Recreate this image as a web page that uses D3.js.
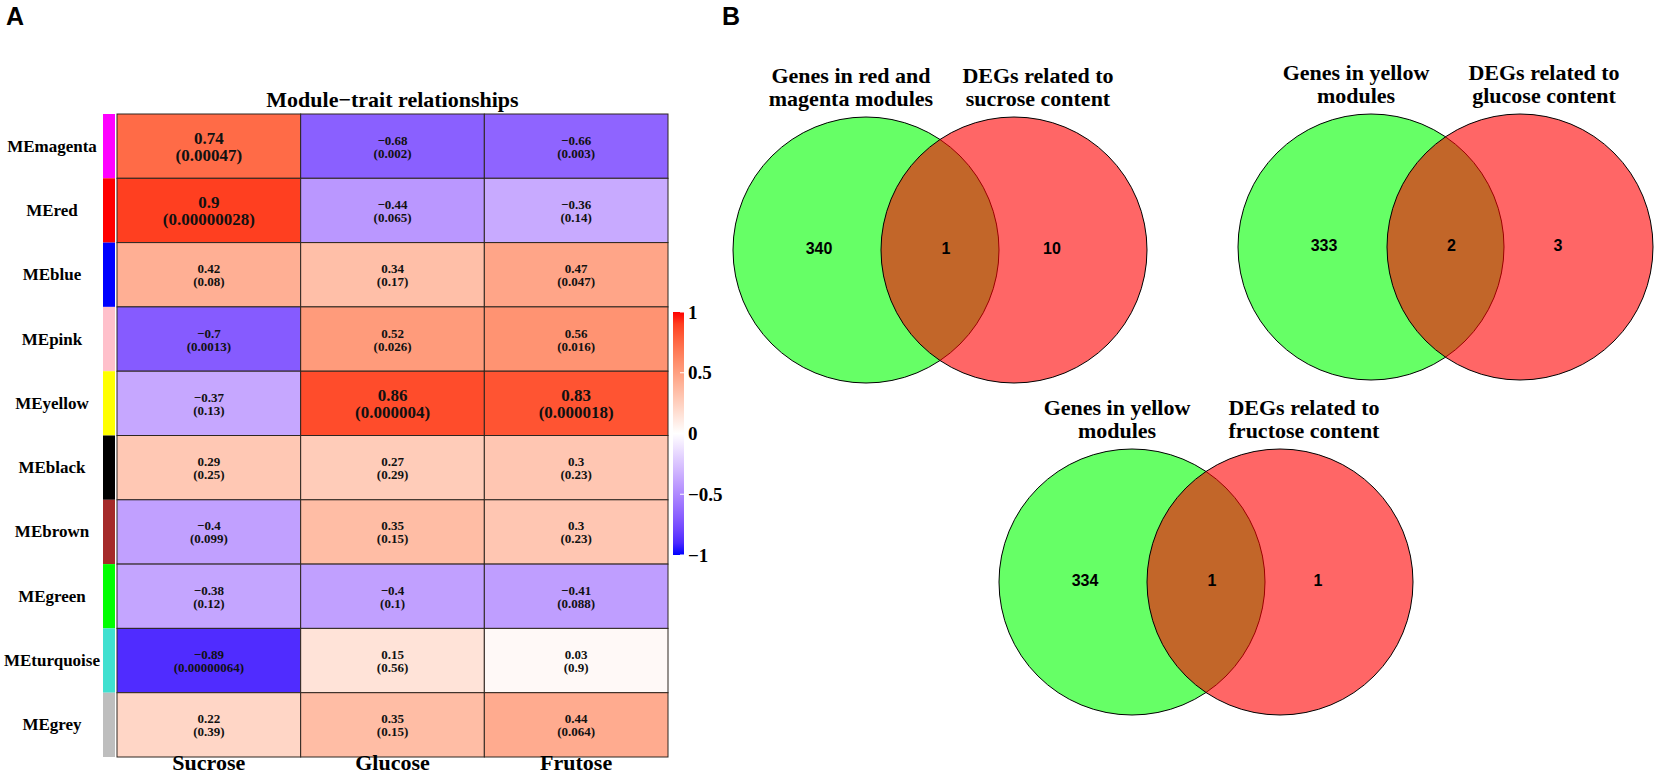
<!DOCTYPE html>
<html>
<head>
<meta charset="utf-8">
<script src="https://cdn.jsdelivr.net/npm/d3@7"></script>
<style>
  html, body { margin: 0; padding: 0; background: #fff; }
  svg { display: block; }
</style>
</head>
<body>
<svg id="chart" width="1654" height="776"></svg>
<script>
// ---------------- DATA ----------------
const modules = ["MEmagenta","MEred","MEblue","MEpink","MEyellow","MEblack","MEbrown","MEgreen","MEturquoise","MEgrey"];
const traits = ["Sucrose","Glucose","Frutose"];
const corSucrose = [0.74, 0.9, 0.42, -0.7, -0.37, 0.29, -0.4, -0.38, -0.89, 0.22];
const corGlucose = [-0.68, -0.44, 0.34, 0.52, 0.86, 0.27, 0.35, -0.4, 0.15, 0.35];
const corFrutose = [-0.66, -0.36, 0.47, 0.56, 0.83, 0.3, 0.3, -0.41, 0.03, 0.44];
const pSucrose = ["0.00047","0.00000028","0.08","0.0013","0.13","0.25","0.099","0.12","0.00000064","0.39"];
const pGlucose = ["0.002","0.065","0.17","0.026","0.000004","0.29","0.15","0.1","0.56","0.15"];
const pFrutose = ["0.003","0.14","0.047","0.016","0.000018","0.23","0.23","0.088","0.9","0.064"];
const legendTicks = [1, 0.5, 0, -0.5, -1];
const legendTickLabels = ["1", "0.5", "0", "\u22120.5", "\u22121"];

const venn1Left = ["Genes in red and", "magenta modules"];
const venn1Right = ["DEGs related to", "sucrose content"];
const venn1Counts = [340, 1, 10];
const venn2Left = ["Genes in yellow", "modules"];
const venn2Right = ["DEGs related to", "glucose content"];
const venn2Counts = [333, 2, 3];
const venn3Left = ["Genes in yellow", "modules"];
const venn3Right = ["DEGs related to", "fructose content"];
const venn3Counts = [334, 1, 1];

// ---------------- STYLE ----------------
const stripColor = {magenta:"#FF00FF", red:"#FF0000", blue:"#0000FF", pink:"#FFC0CB", yellow:"#FFFF00",
  black:"#000000", brown:"#A52A2A", green:"#00FF00", turquoise:"#40E0D0", grey:"#BEBEBE"};
const SERIF = "'Liberation Serif','Times New Roman',serif";
const SANS = "'Liberation Sans',Arial,sans-serif";

const svg = d3.select("#chart");
svg.append("rect").attr("width",1654).attr("height",776).attr("fill","#fff");

// panel letters
svg.append("text").attr("x",6).attr("y",25).text("A")
  .attr("font-family",SANS).attr("font-weight","bold").attr("font-size",25);
svg.append("text").attr("x",722).attr("y",25).text("B")
  .attr("font-family",SANS).attr("font-weight","bold").attr("font-size",25);

// ---------------- HEATMAP ----------------
const cors = [corSucrose, corGlucose, corFrutose];
const pvals = [pSucrose, pGlucose, pFrutose];
const cells = [];
traits.forEach((t, j) => modules.forEach((m, i) => cells.push({trait:t, module:m, r:cors[j][i], p:pvals[j][i]})));

const x = d3.scaleBand().domain(traits).range([117, 668]);
const y = d3.scaleBand().domain(modules).range([114, 757]);
const color = d3.scaleLinear().domain([-1, 0, 1]).range(["#0000FF", "#FFFFFF", "#FF0000"]).interpolate(d3.interpolateLab);

const fmt = v => (v < 0 ? "\u2212" : "") + String(Math.abs(v));

const hm = svg.append("g");
hm.selectAll("rect.cell").data(cells).join("rect").attr("class","cell")
  .attr("x", d => x(d.trait)).attr("y", d => y(d.module))
  .attr("width", x.bandwidth()).attr("height", y.bandwidth())
  .attr("fill", d => color(d.r)).attr("stroke", "#2e2620").attr("stroke-width", 1);

const txt = hm.selectAll("g.ct").data(cells).join("g").attr("class","ct")
  .attr("transform", d => `translate(${x(d.trait) + x.bandwidth()/2},${y(d.module) + y.bandwidth()/2})`)
  .attr("font-family", SERIF).attr("font-weight","bold").attr("text-anchor","middle").attr("fill","#111");
txt.append("text").attr("dy", d => d.r >= 0.7 ? -8 : -6).attr("dominant-baseline","central")
  .attr("font-size", d => d.r >= 0.7 ? 17 : 13).text(d => fmt(d.r));
txt.append("text").attr("dy", d => d.r >= 0.7 ? 9 : 7).attr("dominant-baseline","central")
  .attr("font-size", d => d.r >= 0.7 ? 17 : 13).text(d => "(" + d.p + ")");

// module colour strip
hm.selectAll("rect.strip").data(modules).join("rect").attr("class","strip")
  .attr("x", 103).attr("y", d => y(d)).attr("width", 12).attr("height", y.bandwidth())
  .attr("fill", d => stripColor[d.slice(2)]);

// row labels
hm.selectAll("text.rl").data(modules).join("text").attr("class","rl")
  .attr("x", 52).attr("y", d => y(d) + y.bandwidth()/2).attr("dominant-baseline","central")
  .attr("text-anchor","middle").attr("font-family",SERIF).attr("font-weight","bold").attr("font-size",17)
  .text(d => d);

// column labels
hm.selectAll("text.cl").data(traits).join("text").attr("class","cl")
  .attr("x", d => x(d) + x.bandwidth()/2).attr("y", 770)
  .attr("text-anchor","middle").attr("font-family",SERIF).attr("font-weight","bold").attr("font-size",22)
  .text(d => d);

// title
svg.append("text").attr("x", (117+668)/2).attr("y", 99).attr("dominant-baseline","central")
  .attr("text-anchor","middle").attr("font-family",SERIF).attr("font-weight","bold").attr("font-size",22)
  .text("Module\u2212trait relationships");

// colour bar
const cy = d3.scaleLinear().domain([1, -1]).range([312, 555]);
const defs = svg.append("defs");
const grad = defs.append("linearGradient").attr("id","cbar").attr("x1",0).attr("y1",0).attr("x2",0).attr("y2",1);
d3.range(0, 1.0001, 0.05).forEach(t => {
  grad.append("stop").attr("offset", t).attr("stop-color", color(1 - 2*t));
});
svg.append("rect").attr("x",673).attr("y",cy(1)).attr("width",11).attr("height",cy(-1)-cy(1)).attr("fill","url(#cbar)");
const lg = svg.append("g");
lg.selectAll("line").data(legendTicks).join("line")
  .attr("x1",680).attr("x2",684).attr("y1",d=>cy(d)).attr("y2",d=>cy(d)).attr("stroke","#fff").attr("stroke-width",1);
lg.selectAll("text").data(legendTicks).join("text")
  .attr("x",688).attr("y",d=>cy(d)).attr("dominant-baseline","central")
  .attr("font-family",SERIF).attr("font-weight","bold").attr("font-size",19)
  .text((d,i)=>legendTickLabels[i]);

// ---------------- VENN DIAGRAMS ----------------
const venns = [
  {cx1:866, cx2:1014, cy:250, left:venn1Left, right:venn1Right, counts:venn1Counts},
  {cx1:1371, cx2:1520, cy:247, left:venn2Left, right:venn2Right, counts:venn2Counts},
  {cx1:1132, cx2:1280, cy:582, left:venn3Left, right:venn3Right, counts:venn3Counts}
];
const R = 133;
venns.forEach(v => {
  const g = svg.append("g");
  g.append("circle").attr("cx",v.cx1).attr("cy",v.cy).attr("r",R)
    .attr("fill","#00FF00").attr("fill-opacity",0.6).attr("stroke","#000").attr("stroke-width",1);
  g.append("circle").attr("cx",v.cx2).attr("cy",v.cy).attr("r",R)
    .attr("fill","#FF0000").attr("fill-opacity",0.6).attr("stroke","#000").attr("stroke-width",1);
  const lx = [v.cx1 - 47, (v.cx1 + v.cx2)/2 + 6, v.cx2 + 38];
  g.selectAll("text.cnt").data(v.counts).join("text").attr("class","cnt")
    .attr("x",(d,i)=>lx[i]).attr("y",v.cy - 2).attr("dominant-baseline","central").attr("text-anchor","middle")
    .attr("font-family",SANS).attr("font-weight","bold").attr("font-size",16).text(d=>d);
  g.selectAll("text.tl").data(v.left).join("text").attr("class","tl")
    .attr("x", v.cx1 - 15).attr("y",(d,i)=>v.cy - 175 + i*23).attr("dominant-baseline","central").attr("text-anchor","middle")
    .attr("font-family",SERIF).attr("font-weight","bold").attr("font-size",22).text(d=>d);
  g.selectAll("text.tr").data(v.right).join("text").attr("class","tr")
    .attr("x", v.cx2 + 24).attr("y",(d,i)=>v.cy - 175 + i*23).attr("dominant-baseline","central").attr("text-anchor","middle")
    .attr("font-family",SERIF).attr("font-weight","bold").attr("font-size",22).text(d=>d);
});
</script>
</body>
</html>
